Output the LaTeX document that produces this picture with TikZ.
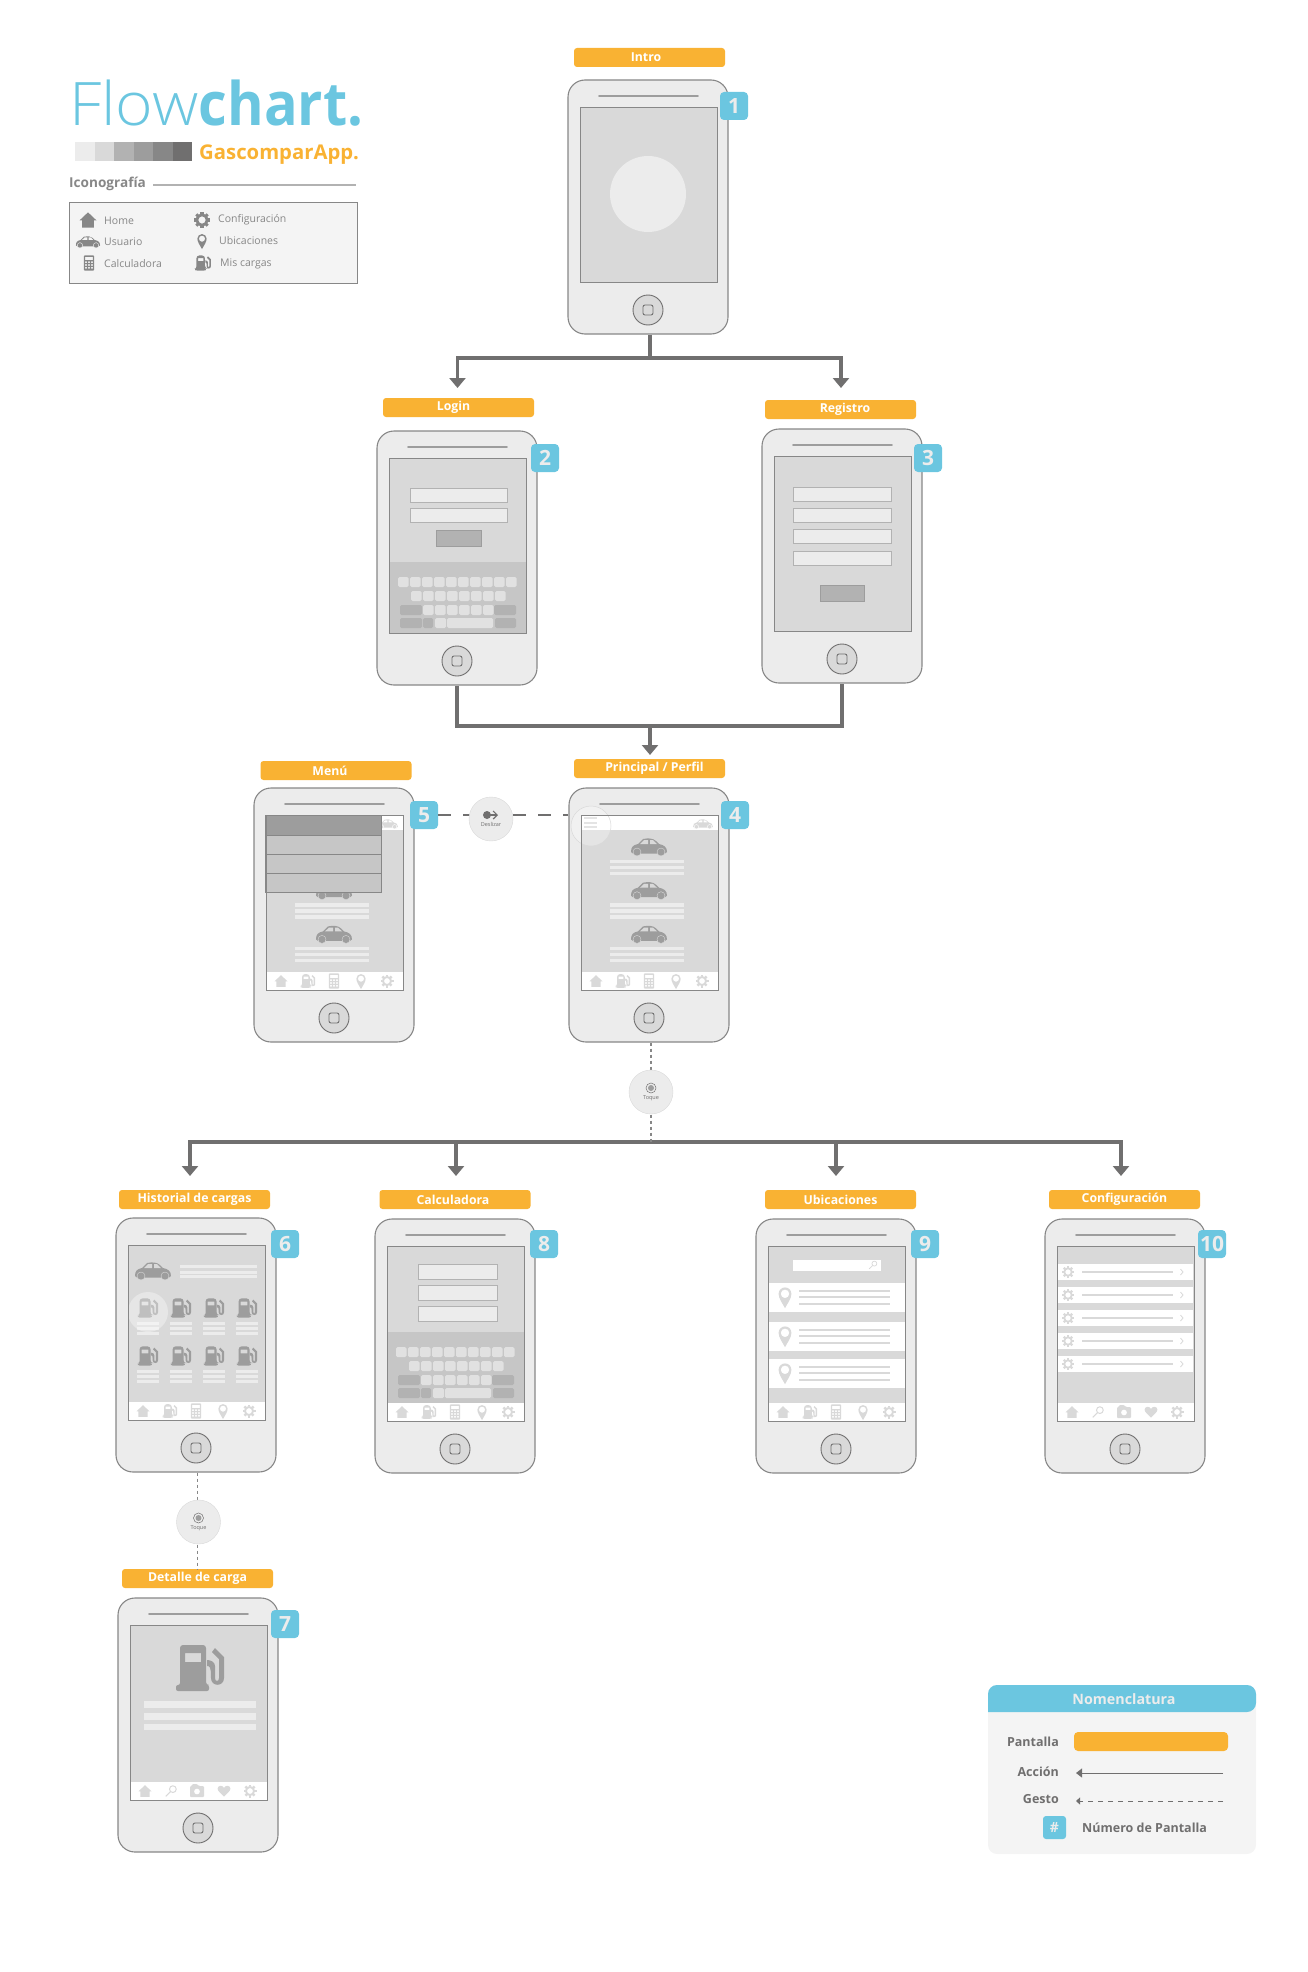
\documentclass[tikz,border=0pt]{standalone}
\usepackage{fontspec}
\setmainfont{Open Sans}
\newfontfamily\lightfont{Open Sans Light}
\usetikzlibrary{arrows.meta,positioning}
\definecolor{fcorange}{HTML}{F9B233}
\definecolor{fccyan}{HTML}{6BC6E0}
\definecolor{g1}{HTML}{ECECEC}
\definecolor{g2}{HTML}{D9D9D9}
\definecolor{g3}{HTML}{B2B2B2}
\definecolor{g4}{HTML}{9D9D9D}
\definecolor{g5}{HTML}{878787}
\definecolor{g6}{HTML}{706F6F}
\definecolor{panelgray}{HTML}{F4F4F4}
\definecolor{keygray}{HTML}{C6C6C6}
\definecolor{keylight}{HTML}{E1E1E1}
\newcommand{\fsize}[1]{\fontsize{#1}{#1}\selectfont}
\tikzstyle{phone}=[draw=g5,fill=g1,line width=1.1pt,rounded corners=17pt,minimum width=160pt,minimum height=254pt,inner sep=0pt]
\tikzstyle{scrlabel}=[fill=fcorange,text=white,rounded corners=3pt,minimum width=151pt,minimum height=19pt,inner sep=0pt,font=\bfseries\fsize{12.3}]
\tikzstyle{badge}=[fill=fccyan,text=g1,rounded corners=4pt,minimum size=28pt,inner sep=0pt,font=\bfseries\fsize{21}]
\tikzstyle{gesture}=[circle,draw=g2,fill=g1,minimum size=44pt,inner sep=0pt]
\tikzstyle{small}=[inner sep=0pt,anchor=west,text=g5,font=\fsize{10.5}]
\tikzstyle{legendtxt}=[inner sep=0pt,text=g6,font=\bfseries\fsize{12.5}]
\tikzstyle{link}=[draw=g6,line width=3.6pt]
\tikzstyle{swipe}=[draw=g6,line width=2.6pt,dash pattern=on 13pt off 12pt]
\tikzstyle{tap}=[draw=g5,line width=1.8pt,dash pattern=on 3pt off 3pt]
\tikzstyle{bigtip}=[-{Triangle[width=16pt,length=10pt]}]
\tikzstyle{field}=[fill=g1,draw=g3,line width=.8pt]
\tikzstyle{okbtn}=[fill=g3,draw=g4,line width=.8pt]
\tikzset{
  pics/homeicon/.style={code={
    \fill[#1] (-10,.5)--(0,-9)--(10,.5)--(7,.5)--(7,9)--(-7,9)--(-7,.5)--cycle;}},
  pics/gearicon/.style={code={
    \fill[#1,even odd rule] (0,0) circle (7.8) (0,0) circle (4.6);
    \foreach \a in {0,45,...,315} \fill[#1,rotate=\a] (-1.9,-10) rectangle (1.9,-7);}},
  pics/pinicon/.style={code={
    \fill[#1,even odd rule] (0,14) .. controls (-3,8) and (-8,2) .. (-8,-4) .. controls (-8,-8.5) and (-4.4,-12) .. (0,-12) .. controls (4.4,-12) and (8,-8.5) .. (8,-4) .. controls (8,2) and (3,8) .. (0,14) -- cycle (0,-4) circle (5.4);}},
  pics/calcicon/.style={code={
    \fill[#1,even odd rule,rounded corners=1pt] (-5.5,-8) rectangle (5.5,8) [sharp corners] (-4,-6.5) rectangle (4,-3)
      foreach \i in {-4,-.9,2.2} {foreach \j in {-1.6,1.2,4} {(\i,\j) rectangle ++(1.8,1.8)}};}},
  pics/pumpicon/.style={code={
    \fill[#1,even odd rule,rounded corners=3pt] (-20,17) -- (-20,-23) -- (6,-23) -- (6,17) [rounded corners=2pt] -- (9,17) -- (9,23) -- (-24,23) -- (-24,17) -- cycle
      [sharp corners] (-15,-15) rectangle (1,-6);
    \fill[#1] (7,-2) .. controls (10,-2) and (11,-1) .. (11,10) .. controls (11,19) and (24,19) .. (24,10) -- (24,-11) -- (15,-20) -- (12,-16) -- (19,-9) -- (19,10) .. controls (19,14) and (15,14) .. (15,10) -- (15,-2) .. controls (15,-6) and (11,-8) .. (7,-8) -- cycle;}},
  pics/caricon/.style 2 args={code={
    \fill[#1] (-18,5) .. controls (-18,0) and (-16,-2) .. (-11,-3) -- (-6,-8) .. controls (-1,-9) and (4,-9) .. (7,-6) -- (10,-3) .. controls (15,-2) and (18,0) .. (18,5) -- (16,6.5) -- (-16,6.5) -- cycle;
    \fill[#2] (-9,-3) -- (-5,-6.8) -- (-1,-6.8) -- (-1,-3) -- cycle (1,-3) -- (1,-6.8) -- (4,-6.8) -- (8,-3) -- cycle;
    \foreach \w in {-12,12} {\fill[#1,draw=#2,line width=.4pt] (\w,5) circle (4);}}},
  pics/searchicon/.style={code={
    \fill[#1,even odd rule] (2.5,-2.5) circle (5.2) (2.5,-2.5) circle (3.8);
    \fill[#1] (-1.2,.4) -- (-.2,1.4) -- (-6.5,7.5) -- (-7.5,6.5) -- cycle;}},
  pics/camicon/.style={code={
    \fill[#1,even odd rule,rounded corners=1pt] (-7,-5) -- (-5,-5) -- (-5,-7) -- (0,-7) -- (2,-5) -- (7,-5) -- (7,6) -- (-7,6) -- cycle [sharp corners] (0,.5) circle (3);}},
  pics/hearticon/.style={code={
    \fill[#1] (0,7) .. controls (-4,3) and (-8,0) .. (-8,-3) .. controls (-8,-7) and (-2,-8) .. (0,-4) .. controls (2,-8) and (8,-7) .. (8,-3) .. controls (8,0) and (4,3) .. (0,7) -- cycle;}}
}
% one handset: name, left, top, what is on its screen
\newcommand{\phonebase}[4]{
  \begin{scope}[shift={(#2,#3)}]
    \node[phone] (#1) at (80,127) {};
    \fill[g2] (12,27) rectangle (149,202);
    #4
    \draw[g5,line width=.9pt] (12,27) rectangle (149,202);
    \draw[g4,line width=1.8pt,line cap=round] (31,16) -- (130,16);
    \fill[g2,draw=g6,line width=.9pt] (80,230) circle (15);
    \draw[g6,line width=.9pt,rounded corners=2pt] (75,225) rectangle (85,235);
  \end{scope}
}
\newcommand{\tabmain}{
  \fill[white] (12,183.5) rectangle (149,202);
  \pic[scale=.65] at (27,193) {homeicon=g2};
  \pic[scale=.3] at (54,193) {pumpicon=g2};
  \pic[scale=.95] at (80,193) {calcicon=g2};
  \pic[scale=.58] at (107,193) {pinicon=g2};
  \pic[scale=.65] at (133,193) {gearicon=g2};
}
\newcommand{\tabother}{
  \fill[white] (12,183.5) rectangle (149,202);
  \pic[scale=.65] at (27,193) {homeicon=g2};
  \pic[scale=.75] at (53,193) {searchicon=g2};
  \pic[scale=1] at (79,193) {camicon=g2};
  \pic[scale=.8] at (106,193) {hearticon=g2};
  \pic[scale=.65] at (132,193) {gearicon=g2};
}
% keyboard: #1 moves it up
\newcommand{\keyboard}[1]{
  \begin{scope}[yshift=#1pt]
    \fill[keygray] (12,131) rectangle (149,202);
    \foreach \k in {0,...,9} \fill[keylight,rounded corners=1.5pt] (21+12*\k,146) rectangle ++(10.5,10);
    \foreach \k in {0,...,7} \fill[keylight,rounded corners=1.5pt] (34+12*\k,160) rectangle ++(10.5,10);
    \foreach \k in {0,...,5} \fill[keylight,rounded corners=1.5pt] (46+12*\k,174) rectangle ++(10.5,10);
    \fill[keylight,rounded corners=1.5pt] (58,187) rectangle (69,197);
    \fill[keylight,rounded corners=1.5pt] (70,187) rectangle (116,197);
    \foreach \a/\b/\c in {23/45/174,117/139/174,23/45/187,46/56/187,118/139/187}
      \fill[g3,rounded corners=1.5pt] (\a,\c) rectangle (\b,\c+10);
  \end{scope}
}
% the list of cars on the main screen
\newcommand{\carlist}{
  \foreach \r in {0,1,2} {
    \pic at (80,59+43.7*\r) {caricon={g4}{g2}};
    \foreach \l in {0,6,12} \fill[g1] (41,71.5+\l+43.7*\r) rectangle (115,75+\l+43.7*\r);
  }
  \fill[white] (12,27) rectangle (149,42);
  \pic[scale=.55] at (134,36) {caricon={g2}{white}};
  \tabmain
}
\begin{document}
\begin{tikzpicture}[x=1pt,y=-1pt]
\useasboundingbox (0,0) rectangle (1308,1972);

% title block
\node[anchor=base west,inner sep=0pt,text=fccyan,font=\fsize{60}] (title) at (69,126) {\scalebox{1.07}[1]{\lightfont Flow}\scalebox{.93}[1]{\bfseries chart.}};
\foreach \c [count=\i from 0] in {g1,g2,g3,g4,g5,g6} \fill[\c] (75+19.5*\i,142) rectangle ++(19.5,19);
\node[anchor=west,inner sep=0pt,text=fcorange,font=\bfseries\fsize{20.3}] (appname) at (199,155) {GascomparApp.};
\node[anchor=west,inner sep=0pt,text=g5,font=\bfseries\fsize{13.6}] (icontitle) at (69,184) {Iconografía};
\draw[g3,line width=1.5pt] (153,185) -- (356,185);
\draw[g5,fill=panelgray,line width=1pt] (69,203) rectangle (357,283);
\pic[scale=.85] at (88,220) {homeicon=g5};
\pic[scale=.67] at (88,242) {caricon={g5}{panelgray}};
\pic[scale=.95] at (89,263) {calcicon=g5};
\pic[scale=.8] at (202,220) {gearicon=g5};
\pic[scale=.58] at (202,241) {pinicon=g5};
\pic[scale=.33] at (203,263) {pumpicon=g5};
\node[small] (ihome) at (104,220.5) {Home};
\node[small] (iuser) at (104,242) {Usuario};
\node[small] (icalc) at (104,263.5) {Calculadora};
\node[small] (iconf) at (218,219.5) {Configuración};
\node[small] (iubic) at (219,241) {Ubicaciones};
\node[small] (icarg) at (220,264) {Mis cargas};

% handsets
\phonebase{p1}{568}{80}{\fill[g1] (80,114) circle (38);}
\phonebase{p2}{377}{431}{
  \draw[field] (33,57) rectangle (130,71);
  \draw[field] (33,77) rectangle (130,91);
  \draw[okbtn] (59,99) rectangle (104,115);
  \keyboard{0}
}
\phonebase{p3}{762}{429}{
  \foreach \y in {58,79,100,122} \draw[field] (31,\y) rectangle (129,\y+14);
  \draw[okbtn] (58,156) rectangle (102,172);
}
\phonebase{p4}{569}{788}{
  \carlist
  \foreach \y in {30,35,39} \draw[g2,line width=1.5pt] (15,\y) -- (28,\y);
  \fill[white,opacity=.3] (22,38) circle (20);
  \draw[g2,line width=.5pt] (22,38) circle (20);
}
\phonebase{p5}{254}{788}{
  \carlist
  \draw[g5,fill=g4,line width=.8pt] (11,27) rectangle (127,47);
  \foreach \y in {47,66,85} \draw[g5,fill=keygray,line width=.8pt] (11,\y) rectangle (127,\y+19.5);
}
\phonebase{p6}{116}{1218}{
  \pic at (37,53) {caricon={g4}{g2}};
  \foreach \y in {47,52.5,57} \fill[g1] (64,\y) rectangle (141,\y+3);
  \foreach \x in {32,65,98,131} \foreach \y in {90,138} {
    \pic[scale=.42] at (\x,\y) {pumpicon=g4};
    \foreach \l in {14,19,23.5} \fill[g1] (\x-11,\y+\l) rectangle (\x+11,\y+\l+3);
  }
  \fill[white,opacity=.35] (32,94) circle (20);
  \tabmain
}
\phonebase{p7}{118}{1598}{
  \pic at (82,70) {pumpicon=g4};
  \fill[g1] (26,103) rectangle (138,110);
  \fill[g1] (26,115) rectangle (138,122);
  \fill[g1] (26,126) rectangle (138,132);
  \tabother
}
\phonebase{p8}{375}{1219}{
  \foreach \y in {45,66,87} \draw[field] (43,\y) rectangle (122,\y+15);
  \keyboard{18}
  \tabmain
}
\phonebase{p9}{756}{1219}{
  \draw[field,fill=white,draw=g2] (36,40) rectangle (125,52);
  \pic[scale=.55] at (117,46) {searchicon=g2};
  \foreach \y/\p in {64/78,103/117,140/154} {
    \fill[white] (12,\y) rectangle (149,\y+29);
    \pic[scale=.8] at (29,\p) {pinicon=g2};
    \foreach \l in {-6,0,7} \draw[g2,line width=1.5pt] (43,\p+\l) -- (134,\p+\l);
  }
  \tabmain
}
\phonebase{p10}{1045}{1219}{
  \foreach \y in {53,76,99,122,145} {
    \fill[white] (12,\y-8) rectangle (148,\y+8);
    \pic[scale=.6] at (23,\y) {gearicon=g2};
    \draw[g2,line width=1.5pt] (37,\y) -- (128,\y);
    \draw[g2,line width=.8pt] (135.5,\y-3) -- (138,\y) -- (135.5,\y+3);
  }
  \tabother
}

% screen names
\node[scrlabel] (lintro) at (649.5,57.5) {Intro\hspace*{7pt}};
\node[scrlabel] (llogin) at (458.5,407.5) {Login\hspace*{10pt}};
\node[scrlabel] (lreg) at (840.5,409.5) {\hspace*{9pt}Registro};
\node[scrlabel] (lmenu) at (336,770.5) {Menú\hspace*{12pt}};
\node[scrlabel] (lprin) at (649.5,768.5) {\hspace*{10pt}Principal / Perfil};
\node[scrlabel] (lhist) at (194.5,1199.5) {Historial de cargas};
\node[scrlabel] (lcalc) at (455,1199.5) {Calculadora\hspace*{4pt}};
\node[scrlabel] (lubic) at (840.5,1199.5) {Ubicaciones};
\node[scrlabel] (lconf) at (1124.5,1199.5) {Configuración};
\node[scrlabel] (ldeta) at (197.5,1578.5) {Detalle de carga};

% numbers
\node[badge] (b1) at (734,106) {1};
\node[badge] (b2) at (545,458) {2};
\node[badge] (b3) at (928,458) {3};
\node[badge] (b4) at (735,815) {4};
\node[badge] (b5) at (424,815) {5};
\node[badge] (b6) at (285,1244) {6};
\node[badge] (b7) at (285,1624) {7};
\node[badge] (b8) at (544,1244) {8};
\node[badge] (b9) at (925,1244) {9};
\node[badge] (b10) at (1212,1244) {10};

% connectors
\coordinate (j1) at (650,358);
\coordinate (ja) at (457.5,388);
\coordinate (jb) at (841,388);
\coordinate (j2) at (650,726);
\coordinate (jc) at (650,755);
\coordinate (j3) at (651,1142);
\coordinate (jd) at (190,1176);
\coordinate (je) at (456,1176);
\coordinate (jf) at (836,1176);
\coordinate (jg) at (1121,1176);
\draw[link] (p1.south -| j1) -- (j1);
\draw[link,bigtip] (j1) -| (ja);
\draw[link,bigtip] (j1) -| (jb);
\draw[link] (p2.south) |- (p3.south |- j2) -- (p3.south);
\draw[link,bigtip] (j2) -- (jc);
\draw[link,bigtip] (j3) -| (jd);
\draw[link,bigtip] (j3) -| (jg);
\draw[link,bigtip] (je |- j3) -- (je);
\draw[link,bigtip] (jf |- j3) -- (jf);
\draw[swipe] (b5.east) -- (p4.west |- b5.east);
\draw[tap] (p4.south -| j3) -- (j3);
\draw[tap] (p6.south -| ldeta) -- (ldeta.north);

% gestures
\node[gesture] (gdesl) at (491,819) {};
\fill[g6] (487,815) circle (4);
\draw[g6,line width=1.2pt,-{Straight Barb[length=4pt,width=8pt]}] (gdesl.center |- 0,815) ++(-2,0) -- ++(9,0);
\node[inner sep=0pt,text=g6,font=\fsize{5.5}] (tdesl) at (491,824) {Deslizar};
\node[gesture] (gtoq1) at (651,1092) {};
\draw[g6,line width=.5pt] (651,1088) circle (5);
\fill[g4] (651,1088) circle (3);
\node[inner sep=0pt,text=g6,font=\fsize{5.5}] (ttoq1) at (651,1098) {Toque};
\node[gesture] (gtoq2) at (198.5,1522) {};
\draw[g6,line width=.5pt] (198.5,1518) circle (5);
\fill[g4] (198.5,1518) circle (3);
\node[inner sep=0pt,text=g6,font=\fsize{5.5}] (ttoq2) at (198.5,1528) {Toque};

% legend
\fill[panelgray,rounded corners=9pt] (988,1685) rectangle (1256,1854);
\fill[fccyan] (988,1712) [rounded corners=9pt] -- (988,1685) -- (1256,1685) -- (1256,1712) [sharp corners] -- cycle;
\node[inner sep=0pt,text=g1,font=\bfseries\fsize{14.3}] (nomen) at (1124,1699) {Nomenclatura};
\node[legendtxt,anchor=east] (tpant) at (1059,1742) {Pantalla};
\node[fill=fcorange,rounded corners=4pt,minimum width=154pt,minimum height=19pt,inner sep=0pt] (lbar) at (1151,1741.5) {};
\node[legendtxt,anchor=east] (tacc) at (1059,1772) {Acción};
\coordinate (accA) at (1223,1773);
\coordinate (accB) at (1076,1773);
\draw[g6,line width=1pt,-{Triangle[width=9pt,length=6pt]}] (accA) -- (accB);
\node[legendtxt,anchor=east] (tges) at (1059,1799) {Gesto};
\coordinate (gesA) at (1223,1801);
\coordinate (gesB) at (1076,1801);
\draw[g6,line width=1pt,dash pattern=on 5pt off 5pt,-{Triangle[width=7pt,length=4pt]}] (gesA) -- (gesB);
\node[fill=fccyan,text=g1,rounded corners=3pt,minimum size=23pt,inner sep=0pt,font=\bfseries\fsize{14}] (bnum) at (1054.5,1827.5) {\#};
\node[legendtxt,anchor=west] (tnum) at (1082,1828) {Número de Pantalla};
\end{tikzpicture}
\end{document}
